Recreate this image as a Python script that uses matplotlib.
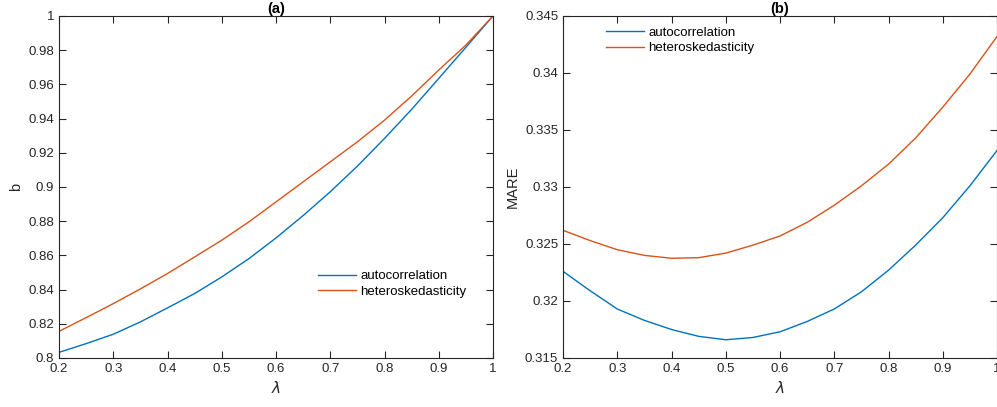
import matplotlib
matplotlib.use("Agg")
import matplotlib.pyplot as plt
import numpy as np

plt.rcParams["font.family"] = ["Liberation Sans", "DejaVu Sans"]

# --- data ---
lam = [0.2, 0.25, 0.3, 0.35, 0.4, 0.45, 0.5, 0.55, 0.6, 0.65,
       0.7, 0.75, 0.8, 0.85, 0.9, 0.95, 1.0]

b_auto = [0.8033, 0.8084, 0.8139, 0.8211, 0.8293, 0.8377, 0.8474, 0.8581, 0.8702,
          0.8833, 0.8972, 0.9122, 0.9284, 0.9454, 0.9635, 0.9817, 1.0]
b_hetero = [0.8156, 0.8236, 0.8318, 0.8404, 0.8494, 0.8591, 0.8689, 0.8796, 0.8913,
            0.9030, 0.9147, 0.9264, 0.9391, 0.9532, 0.9684, 0.9830, 1.0]

mare_auto = [0.3226, 0.3209, 0.3193, 0.3183, 0.3175, 0.3169, 0.3166, 0.3168, 0.3173,
             0.3182, 0.3193, 0.3208, 0.3227, 0.3249, 0.3273, 0.3301, 0.3332]
mare_hetero = [0.3262, 0.3253, 0.3245, 0.3240, 0.32375, 0.3238, 0.3242, 0.3249, 0.3257,
               0.3269, 0.3284, 0.3301, 0.3320, 0.3343, 0.3370, 0.3399, 0.3432]

series_names = ["autocorrelation", "heteroskedasticity"]
colors = ["#0072BD", "#D95319"]
axis_color = "#262626"

fig = plt.figure(figsize=(9.97, 4.07), dpi=100)
ax1 = fig.add_axes([0.0592, 0.1204, 0.4353, 0.8403])
ax2 = fig.add_axes([0.5647, 0.1204, 0.4353, 0.8403])


def trim(v, nd):
    s = f"{v:.{nd}f}".rstrip("0").rstrip(".")
    return s


def style(ax):
    for s in ax.spines.values():
        s.set_color(axis_color)
        s.set_linewidth(0.8)
    ax.tick_params(direction="in", top=True, right=True, length=5,
                   width=0.8, color=axis_color, labelcolor=axis_color,
                   labelsize=9.5)
    ax.set_xlim(0.2, 1.0)
    xt = np.arange(0.2, 1.01, 0.1)
    ax.set_xticks(xt)
    ax.set_xticklabels([trim(v, 1) for v in xt])
    ax.set_xlabel("$\\lambda$", fontsize=11, color=axis_color, labelpad=4)


legend_kw = dict(frameon=False, fontsize=9.5, handlelength=2.9,
                 handletextpad=0.3, labelspacing=0.25, borderaxespad=0)

# --- (a) ---
ax1.plot(lam, b_auto, color=colors[0], lw=1.0, label=series_names[0])
ax1.plot(lam, b_hetero, color=colors[1], lw=1.0, label=series_names[1])
style(ax1)
ax1.set_ylim(0.8, 1.0)
yt = np.arange(0.8, 1.001, 0.02)
ax1.set_yticks(yt)
ax1.set_yticklabels([trim(v, 2) for v in yt])
ax1.set_ylabel("b", fontsize=10.5, color=axis_color)
ax1.set_title("(a)", fontsize=10.5, fontweight="bold", color="black", pad=2)
ax1.legend(loc="upper left", bbox_to_anchor=(0.585, 0.272), **legend_kw)

# --- (b) ---
ax2.plot(lam, mare_auto, color=colors[0], lw=1.0, label=series_names[0])
ax2.plot(lam, mare_hetero, color=colors[1], lw=1.0, label=series_names[1])
style(ax2)
ax2.set_ylim(0.315, 0.345)
yt2 = np.arange(0.315, 0.3451, 0.005)
ax2.set_yticks(yt2)
ax2.set_yticklabels([trim(v, 3) for v in yt2])
ax2.set_ylabel("MARE", fontsize=10.5, color=axis_color)
ax2.set_title("(b)", fontsize=10.5, fontweight="bold", color="black", pad=2)
ax2.legend(loc="upper left", bbox_to_anchor=(0.087, 0.985), **legend_kw)

fig.savefig("out.png", dpi=100)
